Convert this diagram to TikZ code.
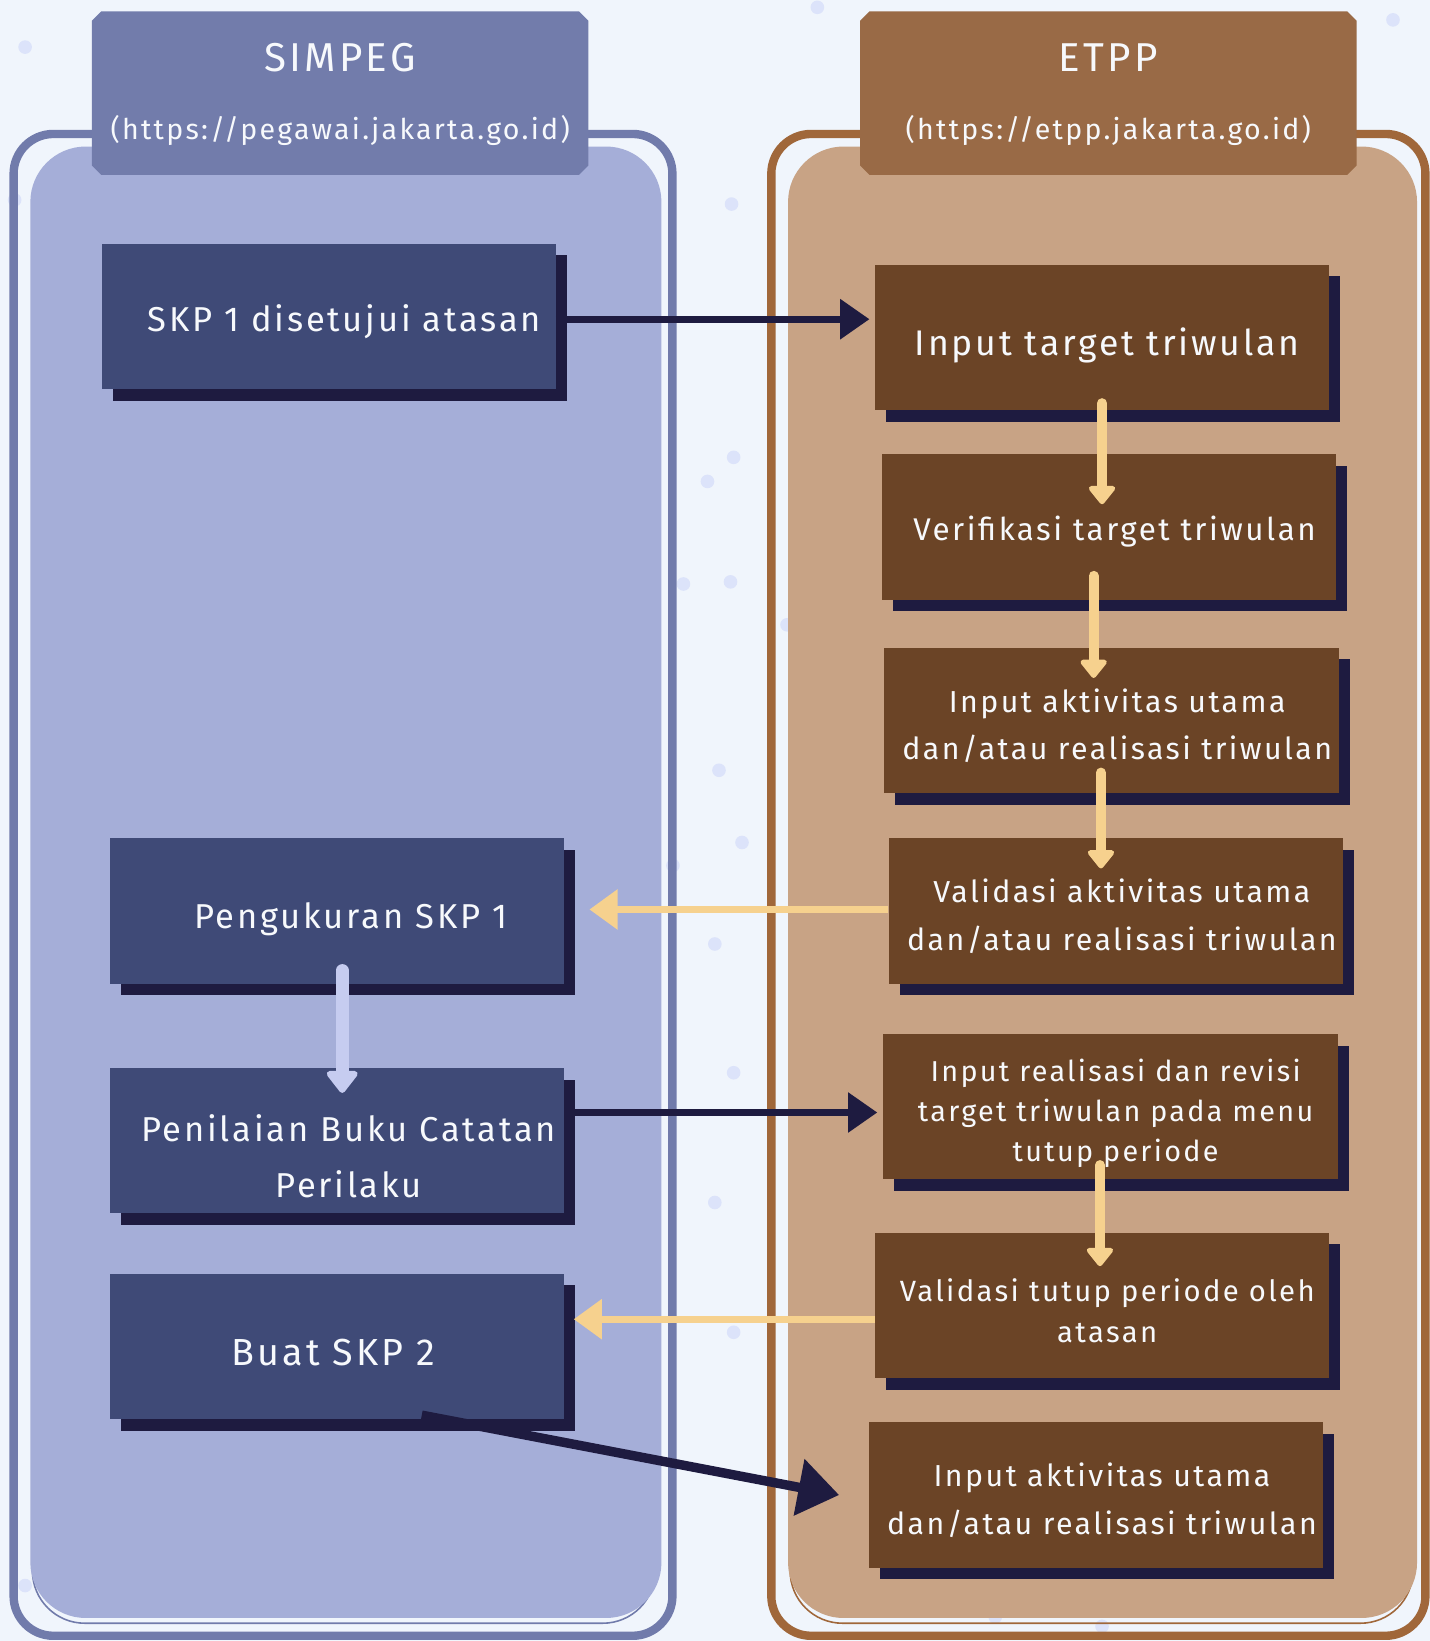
\documentclass[tikz,border=0pt]{standalone}
\usepackage{fontspec}
\setmainfont{Fira Sans}[LetterSpace=8]
\usetikzlibrary{arrows.meta,shadows}
\definecolor{bgc}{HTML}{F0F5FC}
\definecolor{dotc}{HTML}{DCE3FA}
\definecolor{lborder}{HTML}{717BAB}
\definecolor{lfill}{HTML}{A5AED8}
\definecolor{lhead}{HTML}{727CAB}
\definecolor{lbox}{HTML}{3F4A77}
\definecolor{shadowc}{HTML}{1E1B40}
\definecolor{rborder}{HTML}{A0673A}
\definecolor{rfill}{HTML}{C8A385}
\definecolor{rhead}{HTML}{996A46}
\definecolor{rbox}{HTML}{6B4426}
\definecolor{yel}{HTML}{F6D18E}
\definecolor{lav}{HTML}{C6CCF0}
\definecolor{txtc}{HTML}{F7F9FC}
\begin{document}
\begin{tikzpicture}[x=1pt,y=-1pt,
  stepbox/.style={rectangle, minimum width=434pt, minimum height=139pt, inner sep=0pt,
    drop shadow={shadow xshift=10.5pt, shadow yshift=-11pt, fill=shadowc, opacity=1}},
  lstep/.style={stepbox, fill=lbox},
  rstep/.style={stepbox, fill=rbox},
  btxt/.style={inner sep=0pt, align=center, text=txtc},
  bigtxt/.style={btxt, font=\fontsize{33}{53}\selectfont},
  midtxt/.style={btxt, font=\fontsize{29}{45}\selectfont},
  smalltxt/.style={btxt, font=\fontsize{27.5}{38}\selectfont},
  headbox/.style={rectangle, minimum width=474pt, minimum height=156pt, inner sep=0pt, draw=none},
  headtitle/.style={text=txtc, font=\fontsize{38.5}{40}\selectfont},
  headurl/.style={text=txtc, font=\fontsize{27.3}{30}\selectfont},
  navyarrow/.style={draw=shadowc, line width=6.5pt, -{Triangle[length=28pt,width=37pt]}},
  yharrow/.style={draw=yel, line width=6.7pt, -{Triangle[length=27pt,width=37pt]}},
  yvarrow/.style={draw=yel, line width=9.5pt, line cap=round, -{Triangle[length=19pt,width=29pt,round]}},
  lavarrow/.style={draw=lav, line width=12pt, line cap=round, -{Triangle[length=23pt,width=34pt,round]}},
  dot/.style={fill=dotc, draw=none}
]
\useasboundingbox (0,0) rectangle (1366,1568);
\fill[bgc] (0,0) rectangle (1366,1568);

% dots
\foreach \p in {(24,45),(781,7),(1331,19),(14,191),(699,195),(676,460),(701,437),(653,558),(698,556),(752,597),(687,736),(709,805),(643,827),(683,902),(701,1025),(683,1149),(701,1273),(24,1515),(951,1545),(1053,1554)}
  \fill[dot] \p circle (6.5pt);

% left panel
\draw[lborder, line width=8pt, rounded corners=38pt] (13,128) rectangle (642.5,1563);
\draw[lborder, line width=1.5pt, rounded corners=50pt] (31,146) rectangle (626,1551);
\fill[lfill, rounded corners=53pt] (29,140) rectangle (632,1546);

% right panel
\draw[rborder, line width=8pt, rounded corners=38pt] (737,128) rectangle (1362,1563);
\draw[rborder, line width=1.5pt, rounded corners=50pt] (755,146) rectangle (1350,1551);
\fill[rfill, rounded corners=53pt] (753,140) rectangle (1354,1546);

% headers (chamfered)
\node[headbox] (lh) at (325,89) {};
\fill[lhead] ([xshift=9pt]lh.north west) -- ([xshift=-9pt]lh.north east) -- ([yshift=-9pt]lh.north east)
  -- ([yshift=9pt]lh.south east) -- ([xshift=-9pt]lh.south east) -- ([xshift=9pt]lh.south west)
  -- ([yshift=9pt]lh.south west) -- ([yshift=-9pt]lh.north west) -- cycle;
\node[headtitle] (lht) at ([yshift=34pt]lh.center) {SIMPEG};
\node[headurl] (lhu) at ([yshift=-36pt]lh.center) {(https://pegawai.jakarta.go.id)};
\node[headbox] (rh) at (1059,89) {};
\fill[rhead] ([xshift=9pt]rh.north west) -- ([xshift=-9pt]rh.north east) -- ([yshift=-9pt]rh.north east)
  -- ([yshift=9pt]rh.south east) -- ([xshift=-9pt]rh.south east) -- ([xshift=9pt]rh.south west)
  -- ([yshift=9pt]rh.south west) -- ([yshift=-9pt]rh.north west) -- cycle;
\node[headtitle] (rht) at ([yshift=34pt]rh.center) {ETPP};
\node[headurl] (rhu) at ([yshift=-36pt]rh.center) {(https://etpp.jakarta.go.id)};

% left boxes
\node[lstep] (skp1) at (314,302.5) {};
\node[bigtxt] (skp1t) at ([xshift=15pt,yshift=-5pt]skp1.center) {SKP 1 disetujui atasan};
\node[lstep] (peng) at (322,870.5) {};
\node[bigtxt] (pengt) at ([xshift=13pt,yshift=-8pt]peng.center) {Pengukuran SKP 1};
\node[lstep] (pen) at (322,1090) {};
\node[bigtxt] (pent) at ([xshift=11pt,yshift=-15pt]pen.center) {Penilaian Buku Catatan\\Perilaku};
\node[lstep] (buat) at (322,1286.5) {};
\node[bigtxt, font=\fontsize{36}{53}\selectfont] (buatt) at ([xshift=-3.5pt,yshift=-6pt]buat.center) {Buat SKP 2};

% right boxes
\node[rstep] (it) at (1053,322.5) {};
\node[bigtxt, font=\fontsize{34}{53}\selectfont] (itt) at ([xshift=5pt,yshift=-8pt]it.center) {Input target triwulan};
\node[rstep] (vt) at (1060,503.5) {};
\node[midtxt, font=\fontsize{30}{45}\selectfont] (vtt) at ([xshift=5pt,yshift=-4pt]vt.center) {Verifikasi target triwulan};
\node[rstep] (ia1) at (1062,688.5) {};
\node[midtxt] (ia1t) at ([xshift=5.5pt,yshift=-5pt]ia1.center) {Input aktivitas utama\\dan/atau realisasi triwulan};
\node[rstep] (va) at (1066,870.5) {};
\node[midtxt] (vat) at ([xshift=6pt,yshift=-5pt]va.center) {Validasi aktivitas utama\\dan/atau realisasi triwulan};
\node[rstep] (ir) at (1061,1057.5) {};
\node[smalltxt] (irt) at ([xshift=5pt,yshift=-6.5pt]ir.center) {Input realisasi dan revisi\\target triwulan pada menu\\tutup periode};
\node[rstep] (vtp) at (1053,1247.5) {};
\node[midtxt, font=\fontsize{28}{39}\selectfont] (vtpt) at ([xshift=5pt,yshift=-5pt]vtp.center) {Validasi tutup periode oleh\\atasan};
\node[rstep] (ia2) at (1047,1428.5) {};
\node[midtxt] (ia2t) at ([xshift=6pt,yshift=-5pt]ia2.center) {Input aktivitas utama\\dan/atau realisasi triwulan};

% connectors
\draw[navyarrow, shorten >=5pt] ([yshift=-2.5pt]skp1.east) -- ([yshift=-2.5pt]skp1.east -| it.west);
\draw[yvarrow] ([yshift=7pt]it.south) -- ([xshift=-7pt,yshift=-48pt]vt.north);
\draw[yvarrow] ([xshift=-15pt,yshift=23pt]vt.south) -- ([xshift=-17pt,yshift=-29pt]ia1.north);
\draw[yvarrow] ([xshift=-10pt,yshift=20pt]ia1.south) -- ([xshift=-14pt,yshift=-29pt]va.north);
\draw[yharrow] ([yshift=1.5pt]va.west) -- ([xshift=24pt,yshift=1.5pt]va.west -| peng.east);
\draw[lavarrow] ([xshift=5pt,yshift=13pt]peng.south) -- ([xshift=5pt,yshift=-24pt]pen.north);
\draw[navyarrow, shorten >=5.5pt] ([yshift=27pt]pen.east) -- ([yshift=27pt]pen.east -| ir.west);
\draw[yvarrow] ([xshift=-10pt,yshift=14pt]ir.south) -- ([xshift=-2pt,yshift=-32pt]vtp.north);
\draw[yharrow] ([yshift=-13pt]vtp.west) -- ([xshift=9pt,yshift=-13pt]vtp.west -| buat.east);
\draw[navyarrow, line width=9pt, -{Triangle[length=39pt,width=53pt]}] ([xshift=81pt,yshift=4pt]buat.south) -- ([xshift=-28pt]ia2.west);
\end{tikzpicture}
\end{document}
